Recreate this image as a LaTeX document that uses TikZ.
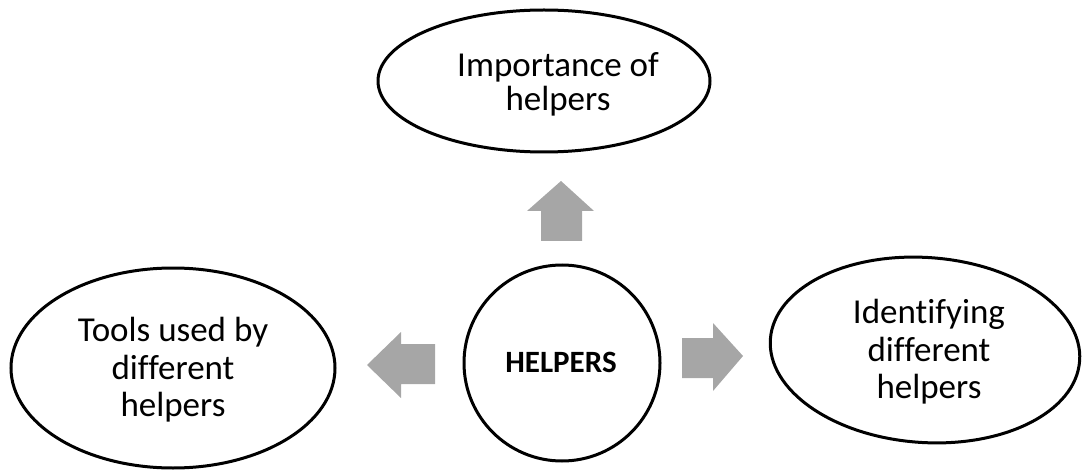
\documentclass[tikz,border=0pt]{standalone}
\usepackage{fontspec}
\setmainfont[Ligatures=NoCommon]{Carlito}
\usetikzlibrary{shapes.geometric}
\definecolor{arrowgray}{RGB}{166,166,166}
\tikzset{
  bubble/.style={draw=black, line width=3pt, ellipse, inner sep=0pt},
  lbl/.style={align=center, inner sep=0pt, font=\fontsize{35}{37.5}\selectfont},
  blockarrow/.style={fill=arrowgray, draw=none}
}
\begin{document}
\begin{tikzpicture}[x=1pt,y=-1pt]
\useasboundingbox (0,0) rectangle (1083,470);
% bubbles
\node[bubble, minimum width=332pt, minimum height=142pt] (top) at (544,81) {};
\node[lbl, font=\fontsize{35}{34}\selectfont] (toptext) at (558,84) {Importance of\\helpers};
\node[bubble, minimum width=324pt, minimum height=200pt] (left) at (173,368) {};
\node[lbl] (lefttext) at (173,370) {Tools used by\\different\\helpers};
\node[bubble, minimum width=310pt, minimum height=185pt, rotate=-4] (right) at (925,350) {};
\node[lbl] (righttext) at (929,352) {Identifying\\different\\helpers};
\node[draw=black, line width=3pt, circle, minimum size=196pt, inner sep=0pt] (hub) at (562,363) {};
\node[inner sep=0pt, font=\fontsize{31}{36}\selectfont\bfseries] (hubtext) at (561,362) {HELPERS};
% block arrows
\fill[blockarrow] (561,181) -- (594,211) -- (582,211) -- (582,241) -- (541,241) -- (541,211) -- (527,211) -- cycle;
\fill[blockarrow] (367,365) -- (401,332) -- (401,344) -- (435,344) -- (435,384) -- (401,384) -- (401,398) -- cycle;
\fill[blockarrow] (743,356) -- (713,323) -- (713,338) -- (682,338) -- (682,378) -- (713,378) -- (713,391) -- cycle;
\end{tikzpicture}
\end{document}
